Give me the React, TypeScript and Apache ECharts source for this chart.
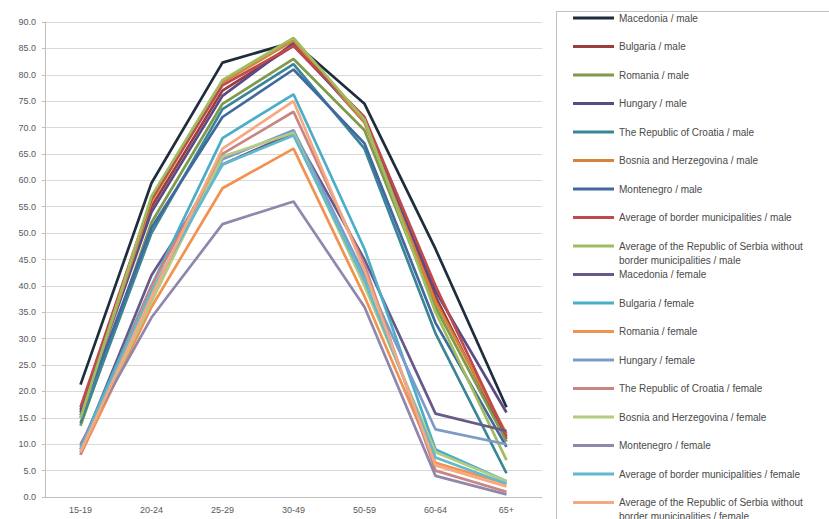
import React, { useEffect, useRef } from "react";
import * as echarts from "echarts";

const categories = ["15-19", "20-24", "25-29", "30-49", "50-59", "60-64", "65+"];

const seriesNames = [
  "Macedonia / male",
  "Bulgaria / male",
  "Romania / male",
  "Hungary / male",
  "The Republic of Croatia / male",
  "Bosnia and Herzegovina / male",
  "Montenegro / male",
  "Average of border municipalities / male",
  "Average of the Republic of Serbia without\nborder municipalities / male",
  "Macedonia / female",
  "Bulgaria / female",
  "Romania / female",
  "Hungary / female",
  "The Republic of Croatia / female",
  "Bosnia and Herzegovina / female",
  "Montenegro / female",
  "Average of border municipalities / female",
  "Average of the Republic of Serbia without\nborder municipalities / female",
];

const macedoniaMale = [21.3, 59.5, 82.3, 86.2, 74.5, 47.0, 17.0];
const bulgariaMale = [16.5, 55.0, 77.0, 85.5, 71.5, 38.0, 11.0];
const romaniaMale = [13.5, 52.0, 74.5, 83.0, 69.5, 36.0, 10.5];
const hungaryMale = [16.0, 54.0, 76.0, 86.0, 71.0, 39.0, 16.0];
const croatiaMale = [14.0, 50.0, 73.5, 82.0, 66.0, 31.0, 4.5];
const bosniaMale = [15.0, 56.0, 78.5, 86.5, 71.0, 37.0, 12.0];
const montenegroMale = [15.5, 51.0, 72.0, 81.0, 67.0, 33.0, 9.5];
const borderMale = [17.0, 56.5, 78.0, 85.5, 72.0, 40.0, 11.5];
const serbiaMale = [15.0, 57.0, 79.0, 87.0, 71.5, 35.0, 7.0];
const macedoniaFemale = [9.0, 42.0, 63.0, 69.0, 45.0, 15.8, 12.5];
const bulgariaFemale = [9.5, 40.0, 68.0, 76.3, 47.0, 9.0, 3.0];
const romaniaFemale = [8.0, 36.0, 58.5, 66.0, 38.0, 6.5, 2.5];
const hungaryFemale = [8.5, 38.0, 64.0, 69.5, 42.0, 12.8, 10.0];
const croatiaFemale = [8.0, 40.0, 65.0, 73.0, 44.0, 5.0, 1.0];
const bosniaFemale = [9.0, 37.0, 64.5, 69.0, 40.0, 8.5, 3.0];
const montenegroFemale = [10.0, 34.0, 51.7, 56.0, 36.0, 4.0, 0.5];
const borderFemale = [9.0, 39.0, 63.0, 68.5, 41.0, 7.5, 2.5];
const serbiaFemale = [8.5, 38.0, 66.0, 75.0, 43.0, 6.0, 2.0];

const seriesValues = [
  macedoniaMale, bulgariaMale, romaniaMale, hungaryMale, croatiaMale, bosniaMale,
  montenegroMale, borderMale, serbiaMale, macedoniaFemale, bulgariaFemale,
  romaniaFemale, hungaryFemale, croatiaFemale, bosniaFemale, montenegroFemale,
  borderFemale, serbiaFemale,
];

const colors = [
  "#1f2d3d", "#9b3c3e", "#7f9a4a", "#5a4a88", "#3a8698", "#d7843a",
  "#41689f", "#bf4a4d", "#9fbd5e", "#675a8a", "#4aaec8", "#f39250",
  "#7c9bc9", "#c98583", "#b5cb80", "#9186ac", "#62b8cc", "#f5a882",
];

const LEGEND_X = 573;
const LEGEND_Y0 = 18;
const LEGEND_STEP = 28.5;

export default function App() {
  const ref = useRef<HTMLDivElement>(null);
  useEffect(() => {
    if (!ref.current) return;
    const chart = echarts.init(ref.current, undefined, { renderer: "svg" });
    const legendItems: any[] = [];
    seriesNames.forEach((name, i) => {
      const y = LEGEND_Y0 + i * LEGEND_STEP;
      legendItems.push({
        type: "line",
        shape: { x1: LEGEND_X, y1: y, x2: LEGEND_X + 41, y2: y },
        style: { stroke: colors[i], lineWidth: 3 },
      });
      legendItems.push({
        type: "text",
        x: LEGEND_X + 46,
        y: y - 7,
        style: {
          text: name,
          fontSize: 10,
          lineHeight: 14,
          fontFamily: "Liberation Sans",
          fill: "#4a4a4a",
          verticalAlign: "top",
          align: "left",
        },
      });
    });
    chart.setOption({
      animation: false,
      color: colors,
      textStyle: { fontFamily: "Liberation Sans" },
      grid: { left: 45, right: 287, top: 22, bottom: 22, containLabel: false },
      legend: { show: false, data: seriesNames },
      graphic: [
        {
          type: "rect",
          shape: { x: 556.5, y: 11.5, width: 400, height: 600 },
          style: { fill: "none", stroke: "#bfbfbf", lineWidth: 1 },
          z: -1,
        },
        ...legendItems,
      ],
      xAxis: {
        type: "category",
        data: categories,
        boundaryGap: true,
        axisLine: { show: true, lineStyle: { color: "#bfbfbf" } },
        axisTick: { show: false },
        axisLabel: { fontSize: 9, color: "#595959", margin: 8 },
      },
      yAxis: {
        type: "value",
        min: 0,
        max: 90,
        interval: 5,
        axisLine: { show: true, lineStyle: { color: "#bfbfbf" } },
        axisTick: { show: true, length: 3, lineStyle: { color: "#bfbfbf" } },
        axisLabel: { fontSize: 9, color: "#595959", margin: 9, formatter: (v: number) => v.toFixed(1) },
        splitLine: { show: true, lineStyle: { color: "#d9d9d9" } },
      },
      series: seriesNames.map((name, i) => ({
        name,
        type: "line",
        data: seriesValues[i],
        symbol: "none",
        lineStyle: { width: 2.7, color: colors[i] },
        itemStyle: { color: colors[i] },
      })),
    });
    return () => chart.dispose();
  }, []);
  return <div ref={ref} style={{ position: "absolute", left: 0, top: 0, width: 829, height: 519 }} />;
}
